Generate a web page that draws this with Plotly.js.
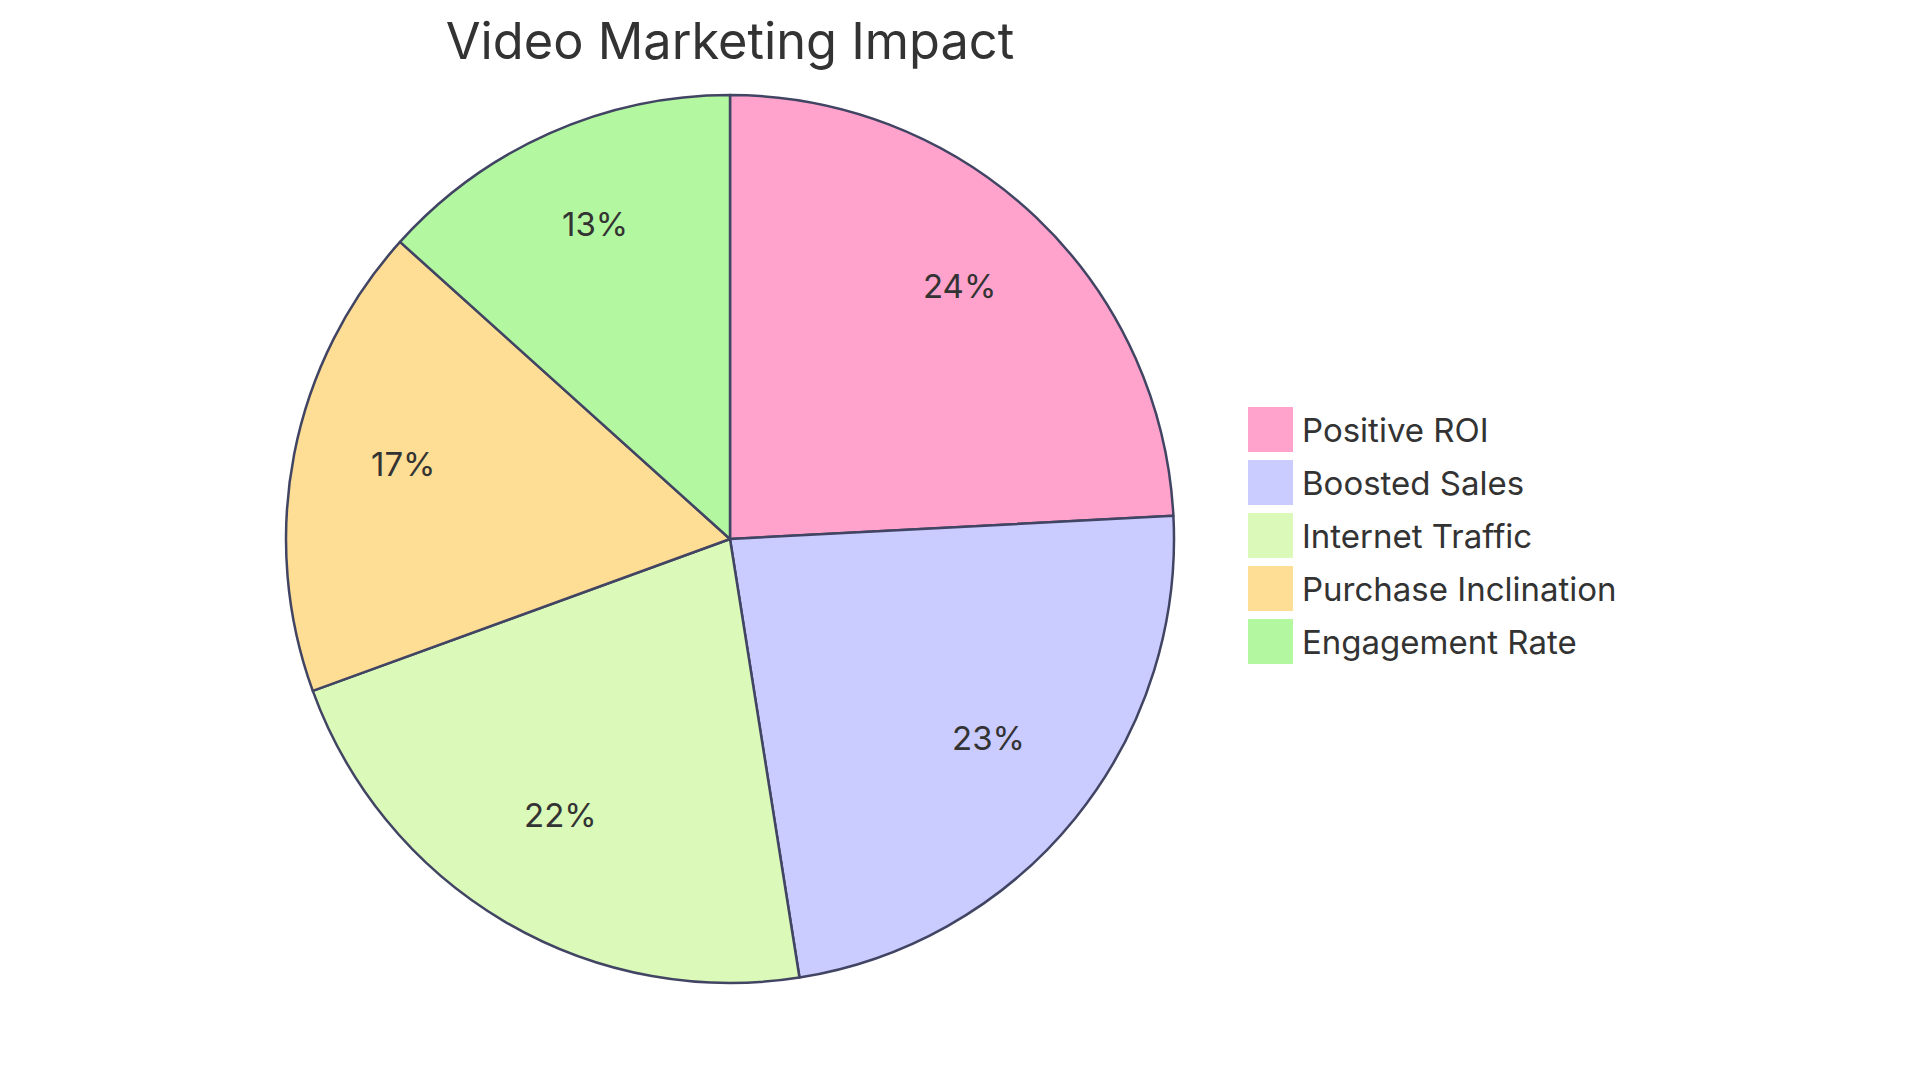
<!DOCTYPE html>
<html>
<head>
<meta charset="utf-8">
<script src="https://cdn.plot.ly/plotly-3.0.1.min.js"></script>
<style>
  html, body { margin: 0; padding: 0; background: #fff; }
  #chart { width: 1920px; height: 1083px; }
</style>
</head>
<body>
<div id="chart"></div>
<script>
const labels = ['Positive ROI', 'Boosted Sales', 'Internet Traffic', 'Purchase Inclination', 'Engagement Rate'];
const values = [87, 84, 79, 62, 48];
const colors = ['#FFA3CC', '#CACBFF', '#DBF9B9', '#FEDE94', '#B3F8A0'];

const W = 1920, H = 1083;
const textColor = '#333333';
const fontFamily = 'Inter, "Noto Sans", sans-serif';

// pie box in px: centre (730, 539), radius 444
const cx = 730, cy = 539, r = 444;

const shapes = [];
const annotations = [];

// legend drawn by hand so the swatches can be large
const legendX = 1248, legendTop = 407, swatch = 45, step = 53;
labels.forEach((lab, i) => {
  const top = legendTop + i * step;
  shapes.push({
    type: 'rect', xref: 'paper', yref: 'paper',
    x0: legendX / W, x1: (legendX + swatch) / W,
    y0: 1 - (top + swatch) / H, y1: 1 - top / H,
    fillcolor: colors[i], line: { width: 0 }
  });
  annotations.push({
    xref: 'paper', yref: 'paper',
    x: (legendX + swatch + 7) / W, y: 1 - (top + swatch / 2) / H,
    xanchor: 'left', yanchor: 'middle',
    text: lab, showarrow: false,
    font: { size: 33, color: textColor, family: fontFamily }
  });
});

// percent labels sit at 3/4 of the radius, on each slice's middle angle
const total = values.reduce((a, b) => a + b, 0);
let cum = 0;
values.forEach(v => {
  const mid = (cum + v / 2) / total * 2 * Math.PI;
  cum += v;
  const lx = cx + 0.75 * r * Math.sin(mid);
  const ly = cy - 0.75 * r * Math.cos(mid) - 11; // text box sits a little high
  annotations.push({
    xref: 'paper', yref: 'paper',
    x: lx / W, y: 1 - ly / H,
    xanchor: 'center', yanchor: 'middle',
    text: Math.round(v / total * 100) + '%', showarrow: false,
    font: { size: 33, color: textColor, family: fontFamily }
  });
});

const trace = {
  type: 'pie',
  labels: labels,
  values: values,
  sort: false,
  direction: 'clockwise',
  rotation: 0,
  marker: { colors: colors, line: { color: '#414563', width: 2.5 } },
  textinfo: 'none',
  hoverinfo: 'label+percent',
  showlegend: false,
  domain: {
    x: [(cx - r) / W, (cx + r) / W],
    y: [1 - (cy + r) / H, 1 - (cy - r) / H]
  }
};

const layout = {
  width: W,
  height: H,
  margin: { l: 0, r: 0, t: 0, b: 0 },
  paper_bgcolor: '#ffffff',
  title: {
    text: 'Video Marketing Impact',
    x: cx / W, xanchor: 'center',
    y: 1 - 41 / H, yanchor: 'middle',
    font: { size: 50.5, color: textColor, family: fontFamily }
  },
  shapes: shapes,
  annotations: annotations,
  showlegend: false
};

Plotly.newPlot('chart', [trace], layout, { displayModeBar: false, staticPlot: true });
</script>
</body>
</html>
